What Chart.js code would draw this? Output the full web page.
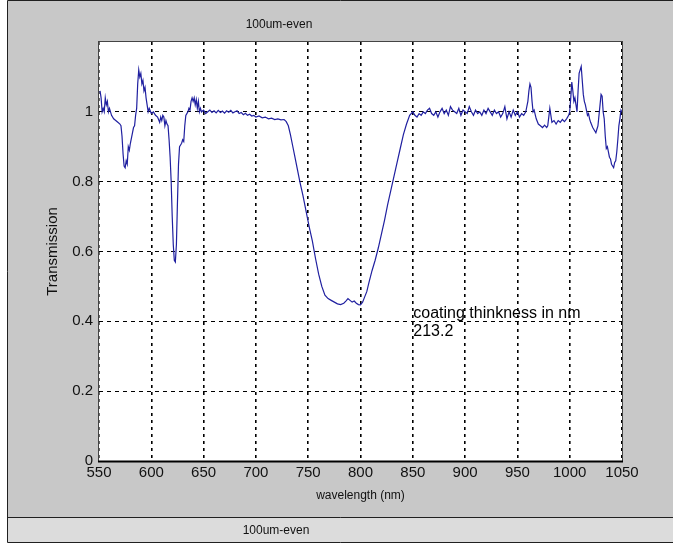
<!DOCTYPE html>
<html>
<head>
<meta charset="utf-8">
<script src="https://cdn.jsdelivr.net/npm/chart.js@4/dist/chart.umd.min.js"></script>
<style>
  html, body { margin: 0; padding: 0; background: #fff; }
  #wrap { width: 673px; height: 544px; }
</style>
</head>
<body>
<div id="wrap"><canvas id="graph" width="673" height="544"></canvas></div>
<script>
var figureTitle = "100um-even";
var xTitle = "wavelength (nm)";
var yTitle = "Transmission";
var noteLines = ["coating thinkness in nm", "213.2"];
var notePos = { x: 850.5, y: 0.423 };

var wavelength = [
  551, 552, 553, 554, 555, 556, 557, 558, 559, 560, 562, 564, 566, 568, 570, 571, 572, 573, 574, 575,
  576, 577, 578, 579, 580, 582, 583, 584, 585, 586, 587, 588, 589, 590, 591, 592, 593, 594, 595, 596,
  597, 598, 600, 602, 604, 606, 608, 609, 610, 611, 612, 613, 614, 615, 616, 617, 618, 619, 620, 621,
  622, 623, 624, 625, 626, 627, 628, 629, 630, 631, 632, 633, 634, 635, 636, 637, 638, 639, 640, 641,
  642, 643, 644, 645, 646, 647, 648, 650, 652, 654, 656, 658, 660, 662, 664, 666, 668, 670, 672, 674,
  676, 678, 680, 682, 684, 686, 688, 690, 692, 694, 696, 698, 700, 703, 706, 709, 712, 715, 718, 721,
  724, 727, 729, 731, 733, 735, 737, 740, 742, 745, 748, 751, 754, 757, 760, 763, 766, 769, 772, 775,
  778, 781, 784, 786, 788, 790, 792, 794, 796, 798, 800, 802, 804, 806, 808, 811, 814, 817, 820, 823,
  826, 829, 832, 835, 838, 841, 844, 847, 850, 852, 854, 856, 858, 860, 862, 864, 866, 868, 870, 872,
  874, 876, 878, 880, 882, 884, 886, 888, 890, 892, 894, 896, 898, 900, 902, 904, 906, 908, 910, 912,
  914, 916, 918, 920, 922, 924, 926, 928, 930, 932, 934, 936, 938, 940, 942, 944, 946, 948, 950, 952,
  954, 956, 958, 960, 961, 962, 963, 964, 965, 966, 968, 970, 972, 974, 976, 978, 979, 980, 981, 982,
  983, 985, 987, 989, 991, 993, 995, 997, 999, 1000, 1001, 1002, 1003, 1004, 1005, 1006, 1007, 1008, 1009, 1010,
  1011, 1012, 1013, 1014, 1015, 1016, 1017, 1018, 1019, 1020, 1022, 1024, 1025, 1026, 1027, 1028, 1029, 1030, 1031, 1032,
  1033, 1034, 1035, 1036, 1037, 1038, 1039, 1040, 1041, 1042, 1043, 1044, 1045, 1046, 1047, 1048, 1049, 1050
];

var transmission = [
  1.06, 1.04, 1.00, 1.01, 1.00, 1.04, 1.02, 1.03, 1.00, 1.01, 0.99, 0.98, 0.975, 0.97, 0.965, 0.96, 0.93, 0.88, 0.845, 0.84,
  0.86, 0.85, 0.90, 0.89, 0.91, 0.94, 0.955, 0.96, 0.99, 1.01, 1.08, 1.12, 1.10, 1.11, 1.08, 1.09, 1.06, 1.07, 1.04, 1.02,
  1.00, 1.01, 0.995, 1.00, 0.99, 0.985, 0.97, 0.985, 0.975, 0.99, 0.985, 0.96, 0.975, 0.965, 0.96, 0.92, 0.87, 0.80, 0.70, 0.62,
  0.575, 0.57, 0.62, 0.74, 0.85, 0.90, 0.905, 0.91, 0.92, 0.915, 0.96, 0.99, 0.995, 1.00, 1.01, 1.005, 1.03, 1.04, 1.03, 1.04,
  1.02, 1.035, 1.01, 1.03, 1.00, 1.01, 1.00, 1.005, 0.995, 1.00, 1.005, 0.998, 1.003, 0.997, 1.004, 0.998, 1.002, 0.996, 1.003, 0.999,
  1.004, 0.997, 1.000, 1.003, 0.995, 0.998, 0.992, 0.996, 0.99, 0.993, 0.988, 0.99, 0.985, 0.988, 0.983, 0.985, 0.98, 0.982, 0.978, 0.98,
  0.977, 0.978, 0.972, 0.96, 0.935, 0.905, 0.875, 0.83, 0.80, 0.76, 0.715, 0.67, 0.63, 0.58, 0.535, 0.50, 0.475, 0.465, 0.46, 0.455,
  0.45, 0.448, 0.452, 0.458, 0.465, 0.46, 0.455, 0.458, 0.452, 0.448, 0.447, 0.455, 0.47, 0.485, 0.51, 0.545, 0.575, 0.61, 0.65, 0.69,
  0.735, 0.775, 0.815, 0.855, 0.895, 0.935, 0.965, 0.99, 1.0, 0.99, 0.985, 0.995, 0.99, 1.0, 0.995, 1.005, 1.01, 0.995, 0.99, 1.0,
  0.985, 1.0, 1.01, 0.995, 1.005, 0.99, 1.015, 1.005, 1.0, 0.995, 1.01, 0.99, 1.005, 1.0, 0.995, 1.015, 1.0, 0.99, 1.005, 0.995,
  1.0, 0.99, 1.005, 0.995, 1.01, 1.0, 0.99, 1.005, 0.995, 1.0, 0.985, 0.995, 1.015, 0.98, 1.0, 0.985, 1.005, 0.99, 1.0, 0.985,
  0.995, 0.99, 1.0, 1.03, 1.06, 1.08, 1.07, 1.03, 1.0, 1.005, 0.98, 0.965, 0.96, 0.955, 0.962, 0.955, 0.96, 0.985, 1.01, 0.99,
  0.97, 0.975, 0.965, 0.975, 0.97, 0.978, 0.972, 0.98, 0.99, 1.0, 1.04, 1.085, 1.06, 1.03, 1.04, 1.02, 1.00, 1.06, 1.11, 1.12,
  1.13, 1.09, 1.05, 1.03, 1.02, 1.005, 0.99, 0.995, 0.98, 0.97, 0.955, 0.945, 0.94, 0.95, 0.96, 0.99, 1.02, 1.05, 1.045, 1.0,
  0.98, 0.93, 0.895, 0.9, 0.885, 0.87, 0.865, 0.85, 0.845, 0.84, 0.855, 0.86, 0.885, 0.92, 0.96, 0.98, 1.005, 1.0
];

var xTicks = [550, 600, 650, 700, 750, 800, 850, 900, 950, 1000, 1050];
var yTicks = [0, 0.2, 0.4, 0.6, 0.8, 1];

var points = wavelength.map(function(w, i) {
  return { x: w, y: transmission[i] };
});

// window frame, titles, plot box and the text note
var decor = {
  id: 'decor',
  beforeDraw: function(chart) {
    var c = chart.ctx;
    c.save();
    c.fillStyle = '#c8c8c8';
    c.fillRect(7, 1, 666, 516);
    c.fillStyle = '#dcdcdc';
    c.fillRect(7, 517, 666, 25);
    c.strokeStyle = '#202020';
    c.lineWidth = 1;
    c.beginPath();
    c.moveTo(7.5, 0.5); c.lineTo(673, 0.5);
    c.moveTo(7.5, 0.5); c.lineTo(7.5, 542.5);
    c.moveTo(7.5, 542.5); c.lineTo(673, 542.5);
    c.moveTo(7.5, 517.5); c.lineTo(673, 517.5);
    c.stroke();
    var a = chart.chartArea;
    c.fillStyle = '#ffffff';
    c.fillRect(a.left, a.top, a.right - a.left, a.bottom - a.top);
    c.fillStyle = '#111';
    c.font = '12px "Liberation Sans", Arial, sans-serif';
    c.textAlign = 'center';
    c.textBaseline = 'middle';
    c.fillText(figureTitle, 279, 25);
    c.fillText(figureTitle, 276, 531);
    c.restore();
  },
  afterDraw: function(chart) {
    var c = chart.ctx;
    var a = chart.chartArea;
    c.save();
    c.strokeStyle = '#444';
    c.lineWidth = 1;
    c.strokeRect(a.left - 0.5, a.top - 0.5, a.right - a.left + 1, a.bottom - a.top + 1);
    c.strokeStyle = '#000';
    c.lineWidth = 2;
    c.beginPath();
    c.moveTo(a.left - 1, a.bottom + 0.5);
    c.lineTo(a.right + 1, a.bottom + 0.5);
    c.stroke();
    var px = chart.scales.x.getPixelForValue(notePos.x);
    var py = chart.scales.y.getPixelForValue(notePos.y);
    c.fillStyle = '#000';
    c.font = '16px "Liberation Sans", Arial, sans-serif';
    c.textAlign = 'left';
    c.textBaseline = 'middle';
    noteLines.forEach(function(t, i) {
      c.fillText(t, px, py + i * 18);
    });
    c.restore();
  }
};

var tickFont = { family: '"Liberation Sans", Arial, sans-serif', size: 15 };
var xTitleFont = { family: '"Liberation Sans", Arial, sans-serif', size: 12 };
var yTitleFont = { family: '"Liberation Sans", Arial, sans-serif', size: 15 };

var chart = new Chart(document.getElementById('graph').getContext('2d'), {
  type: 'scatter',
  data: {
    datasets: [{
      data: points,
      showLine: true,
      borderColor: '#2020a0',
      borderWidth: 1.2,
      pointRadius: 0,
      tension: 0
    }]
  },
  options: {
    responsive: false,
    animation: false,
    events: [],
    layout: { padding: { left: 40, top: 42, right: 51, bottom: 40 } },
    plugins: {
      legend: { display: false },
      tooltip: { enabled: false }
    },
    scales: {
      x: {
        type: 'linear',
        min: 550,
        max: 1050,
        afterFit: function(s) { s.height = 43; },
        afterBuildTicks: function(s) {
          s.ticks = xTicks.map(function(v) { return { value: v }; });
        },
        ticks: {
          color: '#111',
          font: tickFont,
          padding: 3,
          maxRotation: 0,
          callback: function(v) { return String(v); }
        },
        grid: { color: '#000', lineWidth: 1.6, drawTicks: false },
        border: { display: false, dash: [3, 4] },
        title: { display: true, text: xTitle, color: '#111', font: xTitleFont, padding: { top: 0, bottom: 1 } }
      },
      y: {
        min: 0,
        max: 1.2,
        afterFit: function(s) { s.width = 59; },
        afterBuildTicks: function(s) {
          s.ticks = yTicks.map(function(v) { return { value: v }; });
        },
        ticks: {
          color: '#111',
          font: tickFont,
          padding: 6,
          callback: function(v) { return String(+v.toFixed(1)); }
        },
        grid: { color: '#000', lineWidth: 1, drawTicks: false },
        border: { display: false, dash: [4, 4] },
        title: { display: true, text: yTitle, color: '#111', font: yTitleFont, padding: { top: 4, bottom: 0 } }
      }
    }
  },
  plugins: [decor]
});
</script>
</body>
</html>
